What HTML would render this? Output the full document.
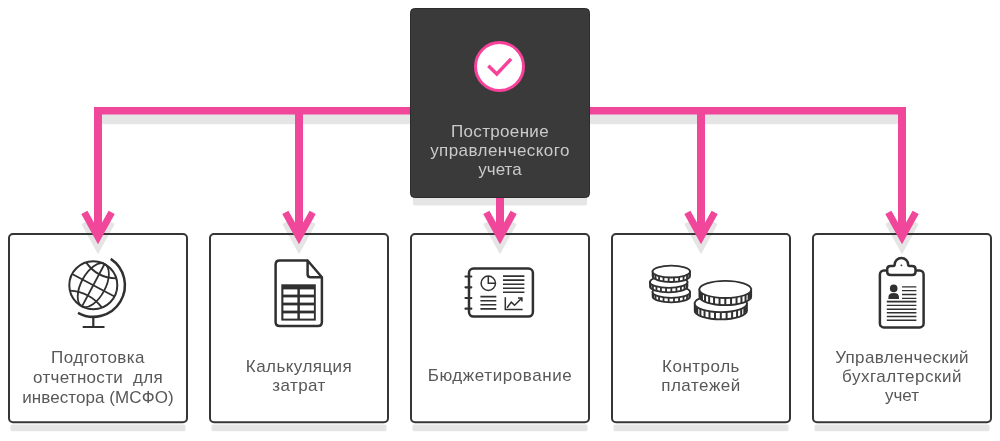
<!DOCTYPE html>
<html lang="ru">
<head>
<meta charset="utf-8">
<title>Построение управленческого учета</title>
<style>
html,body{margin:0;padding:0;background:#fff;}
body{width:1000px;height:441px;position:relative;overflow:hidden;font-family:"Liberation Sans",sans-serif;}
#g{position:absolute;left:0;top:0;width:1000px;height:441px;}
.t{position:absolute;will-change:transform;white-space:pre;font-size:17px;line-height:20px;height:20px;text-align:center;color:#585858;transform:translateX(-50%);}
.t.w{color:#cacaca;}
</style>
</head>
<body>
<svg id="g" width="1000" height="441" viewBox="0 0 1000 441">
<!-- box shadows -->
<g fill="#e5e5e5">
<rect x="10.5" y="424.5" width="175" height="6.7" rx="1.5"/>
<rect x="211.5" y="424.5" width="175" height="6.7" rx="1.5"/>
<rect x="412.5" y="424.5" width="175" height="6.7" rx="1.5"/>
<rect x="613.5" y="424.5" width="175" height="6.7" rx="1.5"/>
<rect x="814.5" y="424.5" width="175" height="6.7" rx="1.5"/>
<rect x="413" y="190" width="174" height="15.5" rx="2"/>
<rect x="98" y="114" width="804" height="10.2"/>
</g>
<!-- light boxes fill -->
<g fill="#fff">
<rect x="9" y="234" width="178" height="188.3" rx="4"/>
<rect x="210" y="234" width="178" height="188.3" rx="4"/>
<rect x="411" y="234" width="178" height="188.3" rx="4"/>
<rect x="612" y="234" width="178" height="188.3" rx="4"/>
<rect x="813" y="234" width="178" height="188.3" rx="4"/>
</g>
<!-- arrow head shadows -->
<g fill="none" stroke="#e5e5e5" stroke-width="7" stroke-linejoin="miter" stroke-miterlimit="10">
<path d="M84.35 222.35L98 247L111.65 222.35"/>
<path d="M285.35 222.35L299 247L312.65 222.35"/>
<path d="M486.35 222.35L500 247L513.65 222.35"/>
<path d="M687.35 222.35L701 247L714.65 222.35"/>
<path d="M888.35 222.35L902 247L915.65 222.35"/>
</g>
<!-- light boxes border -->
<g id="bb" fill="none" stroke="#363636" stroke-width="2">
<rect x="9" y="234" width="178" height="188.3" rx="4"/>
<rect x="210" y="234" width="178" height="188.3" rx="4"/>
<rect x="411" y="234" width="178" height="188.3" rx="4"/>
<rect x="612" y="234" width="178" height="188.3" rx="4"/>
<rect x="813" y="234" width="178" height="188.3" rx="4"/>
</g>
<!-- connectors -->
<g fill="none" stroke="#f0479b" stroke-width="8" stroke-linejoin="miter" stroke-miterlimit="10">
<path d="M98 236V107M902 107V236M299 111V236M500 198V236M701 111V236"/>
<path d="M94 110.7H906" stroke-width="7.6"/>
</g>
<g fill="none" stroke="#f0479b" stroke-width="7" stroke-linejoin="miter" stroke-miterlimit="10">
<path d="M84.35 212.35L98 237L111.65 212.35"/>
<path d="M285.35 212.35L299 237L312.65 212.35"/>
<path d="M486.35 212.35L500 237L513.65 212.35"/>
<path d="M687.35 212.35L701 237L714.65 212.35"/>
<path d="M888.35 212.35L902 237L915.65 212.35"/>
</g>
<!-- dark box -->
<rect x="410.5" y="8.5" width="179" height="189" rx="4" fill="#3a3a3a" stroke="#2c2c2c" stroke-width="1"/>
<circle cx="499.5" cy="66.5" r="24" fill="#fff" stroke="#f7419a" stroke-width="3"/>
<path d="M488.3 65.7L496.8 73.9L511.1 58.9" fill="none" stroke="#f7419a" stroke-width="3.5"/>
<!-- ICONS -->
<g id="icons">
<g fill="none" stroke="#303030" stroke-width="2" stroke-linecap="butt">
<circle cx="93.3" cy="285.2" r="24"/>
<g transform="translate(93.3 285.2) rotate(28)" stroke-width="1.8">
<ellipse cx="0" cy="0" rx="12.2" ry="24"/>
<path d="M0 -24V24"/>
<path d="M-24 0H24"/>
<path d="M-17 -16.8Q0 -8 17 -16.8"/>
<path d="M-18 15.6Q0 7.5 18 15.6"/>
</g>
<path d="M110.74 258.85A31.6 31.6 0 0 1 77.98 312.84" stroke-width="2.5"/>
<path d="M93.3 316.8V327M82.7 327H104.5" stroke-width="2.2"/>
</g>
<g>
<path d="M307.6 260.5H279.6Q275.6 260.5 275.6 264.5V322Q275.6 326 279.6 326H317.9Q321.9 326 321.9 322V277.3L307.6 260.5V274.3Q307.6 277.3 310.6 277.3H321.9" fill="none" stroke="#303030" stroke-width="2.5" stroke-linejoin="round"/>
<rect x="281.3" y="284.3" width="34.5" height="36.3" fill="#303030"/>
<g fill="#fff">
<rect x="283.4" y="289.4" width="14" height="5.2"/><rect x="299.9" y="289.4" width="14" height="5.2"/>
<rect x="283.4" y="297.4" width="14" height="5.2"/><rect x="299.9" y="297.4" width="14" height="5.2"/>
<rect x="283.4" y="305.4" width="14" height="5.2"/><rect x="299.9" y="305.4" width="14" height="5.2"/>
<rect x="283.4" y="313.4" width="14" height="5.2"/><rect x="299.9" y="313.4" width="14" height="5.2"/>
</g></g>
<g fill="none" stroke="#303030">
<rect x="469" y="268.6" width="63.9" height="48" rx="4.5" stroke-width="2.5"/>
<path d="M465.5 276.5H471.3M465.5 287.3H471.3M465.5 298H471.3M465.5 308.7H471.3" stroke-width="2.2" stroke-linecap="round"/>
<circle cx="488.3" cy="283.25" r="7.2" stroke-width="1.5"/>
<path d="M488.3 276V283.25H495.6" stroke-width="1.5"/>
<path d="M503 276.1H524.4M503 280.1H524.4M503 284.2H524.4M503 288.2H524.4M503 292.2H524.4" stroke-width="1.6"/>
<path d="M480.4 296.6H496.3M480.4 300.7H496.3M480.4 304.8H496.3M480.4 308.9H496.3" stroke-width="1.6"/>
<path d="M505.3 297.2V309.6H522.6" stroke-width="1.5"/>
<path d="M507.1 307.7L511.3 302.1L514.6 305.3L521.6 298.2" stroke-width="1.5"/>
<path d="M518 297.9H521.9V301.6" stroke-width="1.5"/>
</g>
<g id="coins"><g stroke="#303030" stroke-width="1.8" fill="#fff"><path d="M652.60 292.0V296.5A18.7 5.9 0 0 0 690.00 296.5V292.0Z"/><path d="M689.24 293.66v4.5M687.03 295.19v4.5M683.55 296.46v4.5M679.07 297.37v4.5M673.96 297.84v4.5M668.64 297.84v4.5M663.53 297.37v4.5M659.05 296.46v4.5M655.57 295.19v4.5M653.36 293.66v4.5" fill="none" stroke-width="1.8"/><ellipse cx="671.3" cy="292.0" rx="18.7" ry="5.9"/></g><g stroke="#303030" stroke-width="1.8" fill="#fff"><path d="M650.00 282.0V286.5A18.7 5.9 0 0 0 687.40 286.5V282.0Z"/><path d="M686.64 283.66v4.5M684.43 285.19v4.5M680.95 286.46v4.5M676.47 287.37v4.5M671.36 287.84v4.5M666.04 287.84v4.5M660.93 287.37v4.5M656.45 286.46v4.5M652.97 285.19v4.5M650.76 283.66v4.5" fill="none" stroke-width="1.8"/><ellipse cx="668.7" cy="282.0" rx="18.7" ry="5.9"/></g><g stroke="#303030" stroke-width="1.8" fill="#fff"><path d="M652.60 271.6V276.1A18.7 5.9 0 0 0 690.00 276.1V271.6Z"/><path d="M689.24 273.26v4.5M687.03 274.79v4.5M683.55 276.06v4.5M679.07 276.97v4.5M673.96 277.44v4.5M668.64 277.44v4.5M663.53 276.97v4.5M659.05 276.06v4.5M655.57 274.79v4.5M653.36 273.26v4.5" fill="none" stroke-width="1.8"/><ellipse cx="671.3" cy="271.6" rx="18.7" ry="5.9"/></g><g stroke="#303030" stroke-width="1.8" fill="#fff"><path d="M694.70 303.5V310.7A26.1 8.6 0 0 0 746.90 310.7V303.5Z"/><path d="M746.25 305.41v7.2M744.32 307.23v7.2M741.21 308.86v7.2M737.07 310.22v7.2M732.12 311.25v7.2M726.61 311.88v7.2M720.80 312.10v7.2M714.99 311.88v7.2M709.48 311.25v7.2M704.53 310.22v7.2M700.39 308.86v7.2M697.28 307.23v7.2M695.35 305.41v7.2" fill="none" stroke-width="2"/><ellipse cx="720.8" cy="303.5" rx="26.1" ry="8.6"/></g><g stroke="#303030" stroke-width="1.8" fill="#fff"><path d="M699.40 289.4V296.59999999999997A25.9 8.6 0 0 0 751.20 296.59999999999997V289.4Z"/><path d="M750.55 291.31v7.2M748.64 293.13v7.2M745.55 294.76v7.2M741.45 296.12v7.2M736.54 297.15v7.2M731.06 297.78v7.2M725.30 298.00v7.2M719.54 297.78v7.2M714.06 297.15v7.2M709.15 296.12v7.2M705.05 294.76v7.2M701.96 293.13v7.2M700.05 291.31v7.2" fill="none" stroke-width="2"/><ellipse cx="725.3" cy="289.4" rx="25.9" ry="8.6"/></g></g>
<g fill="none" stroke="#303030">
<rect x="879.9" y="270.4" width="43.7" height="57" rx="4" stroke-width="2.5"/>
<path d="M890.7 274.4Q887.2 274.4 887.2 271.4V268.2Q887.2 265.2 890.7 265.2H893.2Q894.7 265.2 894.7 263.9A6.7 6.7 0 0 1 908.1 263.9Q908.1 265.2 909.6 265.2H912Q915.5 265.2 915.5 268.2V271.4Q915.5 274.4 912 274.4Z" fill="#fff" stroke-width="2.5" stroke-linejoin="round" transform="translate(0 0.7)"/>
<circle cx="901.4" cy="265.3" r="0.9" fill="#303030" stroke="none"/>
<circle cx="893.7" cy="288.4" r="3.8" fill="#303030" stroke="none"/>
<path d="M888.4 299V297.4Q888.4 293 893.7 293Q899 293 899 297.4V299Z" fill="#303030" stroke="none"/>
<path d="M902 286.8H916.4M902 290.6H916.4M902 294.5H916.4M902 298.3H916.4" stroke-width="1.3"/>
<path d="M886.8 301.6H916.4" stroke-width="1.8"/>
<path d="M886.8 305.4H916.4M886.8 309.2H916.4M886.8 312.8H916.4M886.8 316.5H916.4M886.8 320.2H916.4" stroke-width="1.4"/>
</g>
</g>
</svg>

<div class="t w" style="left:500px;top:122px;letter-spacing:0.33px;margin-left:0.17px">Построение</div>
<div class="t w" style="left:500px;top:141px;letter-spacing:0.43px;margin-left:0.21px">управленческого</div>
<div class="t w" style="left:500px;top:160px">учета</div>

<div class="t" style="left:98px;top:348px;letter-spacing:0.44px;margin-left:0.22px">Подготовка</div>
<div class="t" style="left:98px;top:368px;letter-spacing:0.29px;margin-left:0.14px">отчетности  для</div>
<div class="t" style="left:98px;top:388px;letter-spacing:0.07px;margin-left:0.04px">инвестора (МСФО)</div>

<div class="t" style="left:299px;top:357px;letter-spacing:0.44px;margin-left:0.22px">Калькуляция</div>
<div class="t" style="left:299px;top:376px;letter-spacing:0.4px;margin-left:0.20px">затрат</div>

<div class="t" style="left:500px;top:366px;letter-spacing:0.58px;margin-left:0.29px">Бюджетирование</div>

<div class="t" style="left:701px;top:357px;letter-spacing:0.51px;margin-left:0.26px">Контроль</div>
<div class="t" style="left:701px;top:376px;letter-spacing:0.53px;margin-left:0.27px">платежей</div>

<div class="t" style="left:902px;top:348px;letter-spacing:0.35px;margin-left:0.17px">Управленческий</div>
<div class="t" style="left:902px;top:367px;letter-spacing:0.54px;margin-left:0.27px">бухгалтерский</div>
<div class="t" style="left:902px;top:386px">учет</div>
</body>
</html>
